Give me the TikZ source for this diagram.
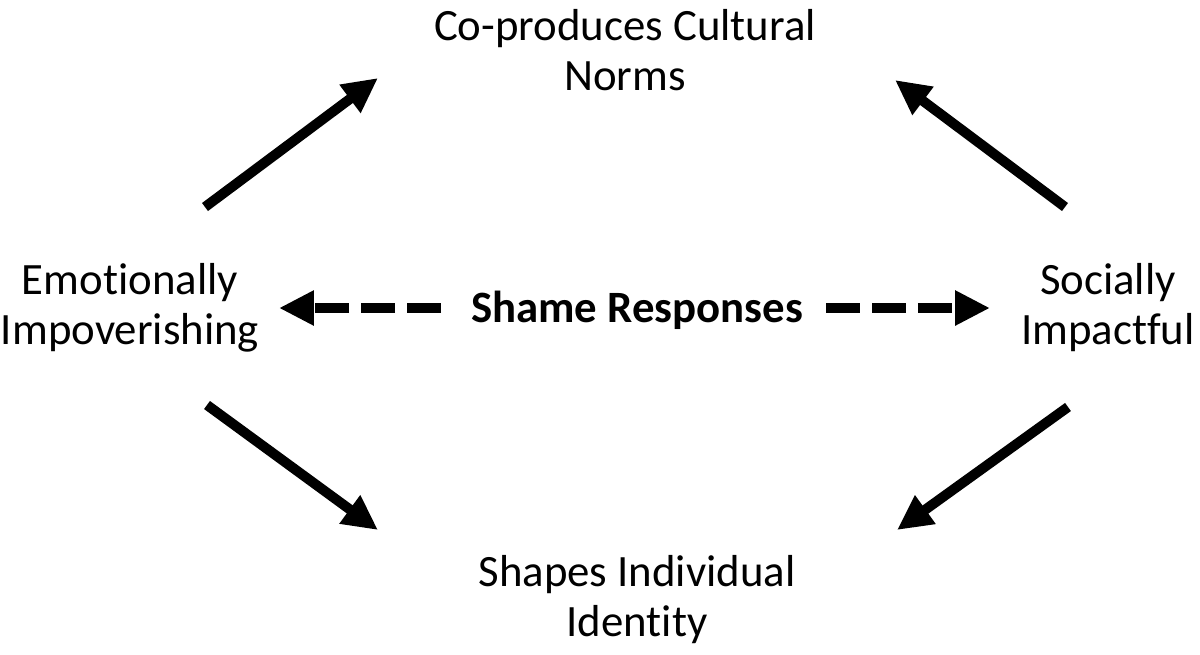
\documentclass[tikz,border=0pt]{standalone}
\usepackage{fontspec}
\setmainfont[Ligatures=CommonOff]{Carlito}
\usetikzlibrary{arrows.meta}
\begin{document}
\begin{tikzpicture}[
    x=0.02cm, y=-0.02cm,
    label/.style={align=center, font=\fontsize{25.5}{28.5}\selectfont, inner sep=0pt},
    arrow/.style={line width=0.2cm, -{Triangle[length=0.7cm,width=0.66cm]}},
    dasharrow/.style={arrow, dash pattern=on 0.68cm off 0.24cm}
  ]
    \useasboundingbox (0,0) rectangle (1200,654);

    % Texte
    \node[label] (norms) at (625,50) {Co-produces Cultural\\Norms};
    \node[label] (identity) at (637,600) {Shapes Individual\\Identity};
    \node[label] (emo) at (130,308) {Emotionally\\Impoverishing};
    \node[label] (social) at (1108,308) {Socially\\Impactful};
    \node[label, font=\fontsize{25.5}{28.5}\selectfont\bfseries] (shame) at (637,310) {Shame Responses};

    % Pfeilenden
    \coordinate (a1) at (205,207);  \coordinate (a2) at (378,78);
    \coordinate (b1) at (1065,207); \coordinate (b2) at (895,80);
    \coordinate (c1) at (207,405);  \coordinate (c2) at (378,530);
    \coordinate (d1) at (1068,407); \coordinate (d2) at (897,530);
    \coordinate (l1) at (441,308);  \coordinate (l2) at (279,308);
    \coordinate (r1) at (826,308);  \coordinate (r2) at (990,308);

    % Pfeile
    \draw[arrow] (a1) -- (a2);
    \draw[arrow] (b1) -- (b2);
    \draw[arrow] (c1) -- (c2);
    \draw[arrow] (d1) -- (d2);
    \draw[dasharrow] (l1) -- (l2);
    \draw[dasharrow] (r1) -- (r2);
\end{tikzpicture}
\end{document}
